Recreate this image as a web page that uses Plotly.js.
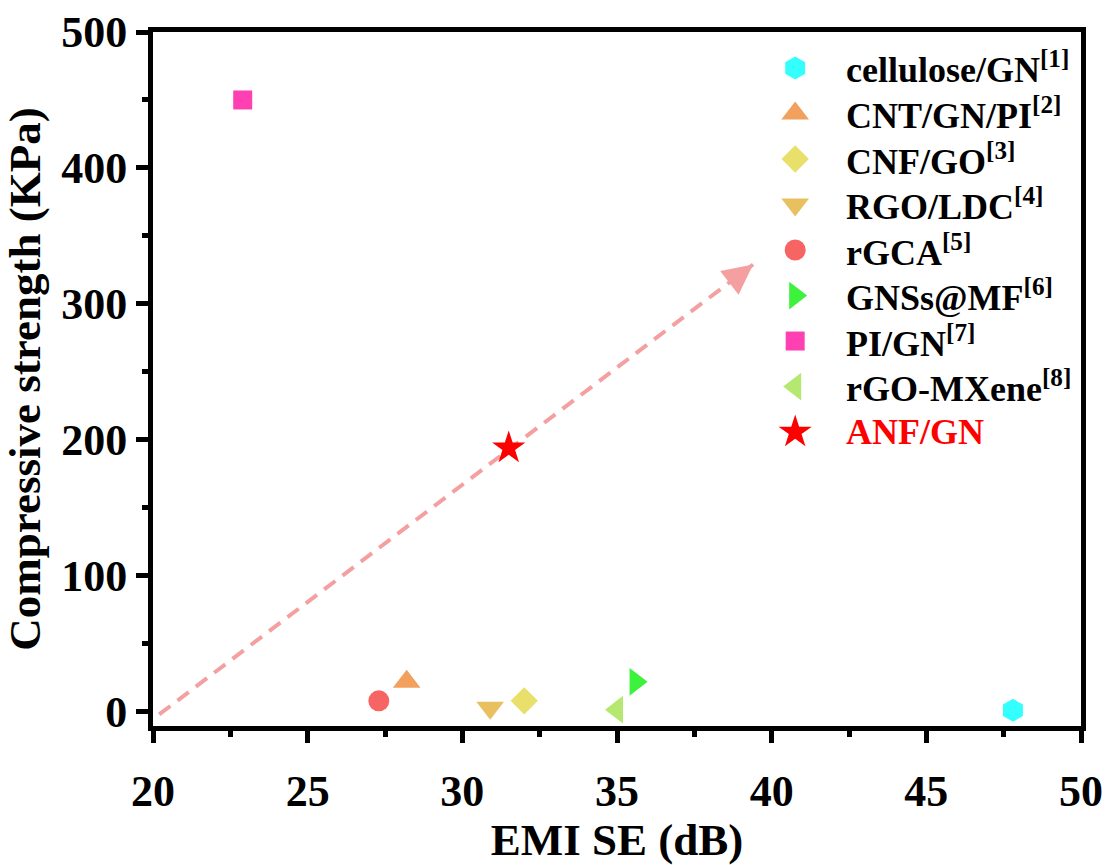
<!DOCTYPE html>
<html>
<head>
<meta charset="utf-8">
<script src="https://cdn.plot.ly/plotly-3.0.1.min.js"></script>
<style>
html,body{margin:0;padding:0;background:#fff;}
#chart{width:1107px;height:865px;}
</style>
</head>
<body>
<div id="chart"></div>
<script>
// ---- data ----
const names = [
  'cellulose/GN<sup>[1]</sup>',
  'CNT/GN/PI<sup>[2]</sup>',
  'CNF/GO<sup>[3]</sup>',
  'RGO/LDC<sup>[4]</sup>',
  'rGCA<sup>[5]</sup>',
  'GNSs@MF<sup>[6]</sup>',
  'PI/GN<sup>[7]</sup>',
  'rGO-MXene<sup>[8]</sup>',
  'ANF/GN'
];
const labelColors = ['#000', '#000', '#000', '#000', '#000', '#000', '#000', '#000', '#ff0000'];
const emiSE = [47.8, 28.2, 32.0, 30.9, 27.3, 35.6, 22.9, 35.0, 31.5];
const strength = [1, 22, 8, 3, 8, 22, 450, 1.5, 194];
const symbols = ['hexagon', 'triangle-up', 'diamond', 'triangle-down', 'circle',
                 'triangle-right', 'square', 'triangle-left', 'star'];
const colors = ['#33ffff', '#f2a05e', '#e8e06a', '#e8c060', '#f76464',
                '#3cf23c', '#ff40b2', '#b4e870', '#ff0000'];
const sizes = [23, 24, 21, 24, 21, 24, 19, 24, 25];

// trend arrow (dashed)
const arrowX = [20.2, 39.4];
const arrowY = [-2, 329];

const xTicks = [20, 25, 30, 35, 40, 45, 50];
const yTicks = [0, 100, 200, 300, 400, 500];

const FONT = '"Liberation Serif", "Times New Roman", Times, serif';

// custom legend placement (layout only)
const LEG_MARK_X = 0.692;   // paper fraction of plot width
const LEG_TEXT_X = 0.745;
const rows = names.map((_, i) => i);

const traces = [];
traces.push({
  x: arrowX, y: arrowY, mode: 'lines', showlegend: false, hoverinfo: 'skip',
  line: {color: '#f4a0a0', width: 4, dash: '14px,9px'}
});
for (let i = 0; i < names.length; i++) {
  const mk = {symbol: symbols[i], color: colors[i], size: sizes[i], line: {width: 0}};
  traces.push({
    x: [emiSE[i]], y: [strength[i]], name: names[i], mode: 'markers',
    showlegend: false, marker: mk
  });
  // legend swatch
  traces.push({
    x: [LEG_MARK_X], y: [rows[i]], xaxis: 'x2', yaxis: 'y2', mode: 'markers',
    showlegend: false, hoverinfo: 'skip', marker: mk
  });
}

const annotations = names.map((n, i) => ({
  x: LEG_TEXT_X, y: rows[i], xref: 'paper', yref: 'y2',
  xanchor: 'left', yanchor: 'middle', showarrow: false, text: n,
  font: {family: FONT, size: 36, color: labelColors[i], weight: 'bold'}
}));
annotations.push({
  x: arrowX[1], y: arrowY[1], xref: 'x', yref: 'y',
  ax: -22, ay: 17, axref: 'pixel', ayref: 'pixel',
  showarrow: true, arrowhead: 2, arrowsize: 1.5, arrowwidth: 4,
  arrowcolor: '#f4a0a0', standoff: 0, text: ''
});

const layout = {
  width: 1107, height: 865,
  margin: {l: 153, r: 26, t: 32, b: 139},
  paper_bgcolor: '#ffffff', plot_bgcolor: '#ffffff',
  font: {family: FONT, color: '#000', size: 40, weight: 'bold'},
  showlegend: false,
  xaxis: {
    range: [20, 50], tickvals: xTicks, ticktext: xTicks.map(String),
    showgrid: false, zeroline: false,
    showline: true, linecolor: '#000', linewidth: 5, mirror: true,
    ticks: 'outside', ticklen: 12, tickwidth: 5, tickcolor: '#000',
    minor: {dtick: 2.5, ticks: 'outside', ticklen: 6, tickwidth: 5, tickcolor: '#000', showgrid: false},
    tickfont: {family: FONT, size: 44, color: '#000', weight: 'bold'},
    ticklabelstandoff: 10,
    title: {text: 'EMI SE (dB)', font: {family: FONT, size: 45, color: '#000', weight: 'bold'}, standoff: 32},
    automargin: false
  },
  yaxis: {
    range: [-10.5, 500], tickvals: yTicks, ticktext: yTicks.map(String),
    showgrid: false, zeroline: false,
    showline: true, linecolor: '#000', linewidth: 5, mirror: true,
    ticks: 'outside', ticklen: 12, tickwidth: 5, tickcolor: '#000',
    minor: {dtick: 50, ticks: 'outside', ticklen: 6, tickwidth: 5, tickcolor: '#000', showgrid: false},
    tickfont: {family: FONT, size: 44, color: '#000', weight: 'bold'},
    title: {text: 'Compressive strength (KPa)', font: {family: FONT, size: 45, color: '#000', weight: 'bold'}, standoff: 12},
    automargin: false
  },
  xaxis2: {overlaying: 'x', anchor: 'y2', range: [0, 1], visible: false, fixedrange: true},
  yaxis2: {overlaying: 'y', anchor: 'x2', range: [14.46, -0.791], visible: false, fixedrange: true},
  annotations: annotations
};

Plotly.newPlot('chart', traces, layout, {displayModeBar: false, staticPlot: true});
</script>
</body>
</html>
